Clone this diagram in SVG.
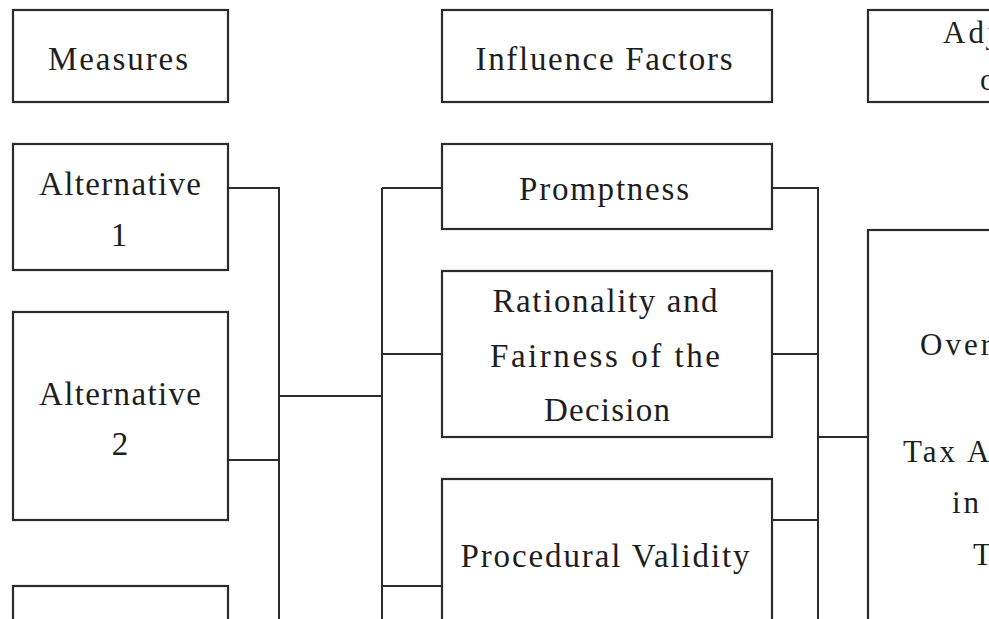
<svg xmlns="http://www.w3.org/2000/svg" width="989" height="619" viewBox="0 0 989 619">
  <style>
    .box { fill: #ffffff; stroke: #2b2b2b; stroke-width: 2.2; }
    .wire { fill: none; stroke: #2b2b2b; stroke-width: 2; }
    .lbl { font-family: "Liberation Serif", "DejaVu Serif", serif; font-size: 33px; fill: #1e1e1e; }
    .mid { text-anchor: middle; }
    .cut { font-size: 31px; letter-spacing: 3px; }
  </style>
  <rect width="989" height="619" fill="#ffffff"/>

  <!-- connectors -->
  <g id="connectors">
    <path class="wire" d="M228,188 H279 V619 M228,460 H279 M279,396 H382"/>
    <path class="wire" d="M382,188 V619 M382,188 H442 M382,354 H442 M382,586 H442"/>
    <path class="wire" d="M772,188 H818 V619 M772,354 H818 M772,520 H818 M818,437 H868"/>
  </g>

  <!-- column headers -->
  <g id="measures">
    <rect class="box" x="13" y="10" width="215" height="92"/>
    <text class="lbl mid" x="118" y="70" textLength="140" lengthAdjust="spacing">Measures</text>
  </g>
  <g id="influence-factors">
    <rect class="box" x="442" y="10" width="330" height="92"/>
    <text class="lbl mid" x="604" y="70" textLength="257" lengthAdjust="spacing">Influence  Factors</text>
  </g>
  <g id="adjustment">
    <rect class="box" x="868" y="10" width="140" height="92"/>
    <text class="lbl cut" x="943" y="43" letter-spacing="1">Adj</text>
    <text class="lbl cut" x="980" y="90">o</text>
  </g>

  <!-- measures column -->
  <g id="alternative-1">
    <rect class="box" x="13" y="144" width="215" height="126"/>
    <text class="lbl mid" x="120" y="195" textLength="162" lengthAdjust="spacing">Alternative</text>
    <text class="lbl mid" x="119" y="246">1</text>
  </g>
  <g id="alternative-2">
    <rect class="box" x="13" y="312" width="215" height="208"/>
    <text class="lbl mid" x="120" y="405" textLength="162" lengthAdjust="spacing">Alternative</text>
    <text class="lbl mid" x="120" y="455">2</text>
  </g>
  <g id="alternative-3">
    <rect class="box" x="13" y="586" width="215" height="60"/>
  </g>

  <!-- influence factors column -->
  <g id="promptness">
    <rect class="box" x="442" y="144" width="330" height="85"/>
    <text class="lbl mid" x="604" y="200" textLength="170" lengthAdjust="spacing">Promptness</text>
  </g>
  <g id="rationality">
    <rect class="box" x="442" y="271" width="330" height="166"/>
    <text class="lbl mid" x="605" y="312" textLength="225" lengthAdjust="spacing">Rationality  and</text>
    <text class="lbl mid" x="605" y="367" textLength="230" lengthAdjust="spacing">Fairness  of  the</text>
    <text class="lbl mid" x="607" y="421" textLength="126" lengthAdjust="spacing">Decision</text>
  </g>
  <g id="procedural-validity">
    <rect class="box" x="442" y="479" width="330" height="170"/>
    <text class="lbl mid" x="605" y="567" textLength="289" lengthAdjust="spacing">Procedural  Validity</text>
  </g>

  <!-- outcome column -->
  <g id="overall">
    <rect class="box" x="868" y="230" width="140" height="420"/>
    <text class="lbl cut" x="920" y="355" letter-spacing="1.5">Over</text>
    <text class="lbl cut" x="903" y="462" letter-spacing="4.5">Tax A</text>
    <text class="lbl cut" x="952" y="513">in</text>
    <text class="lbl cut" x="973" y="565">T</text>
  </g>
</svg>
